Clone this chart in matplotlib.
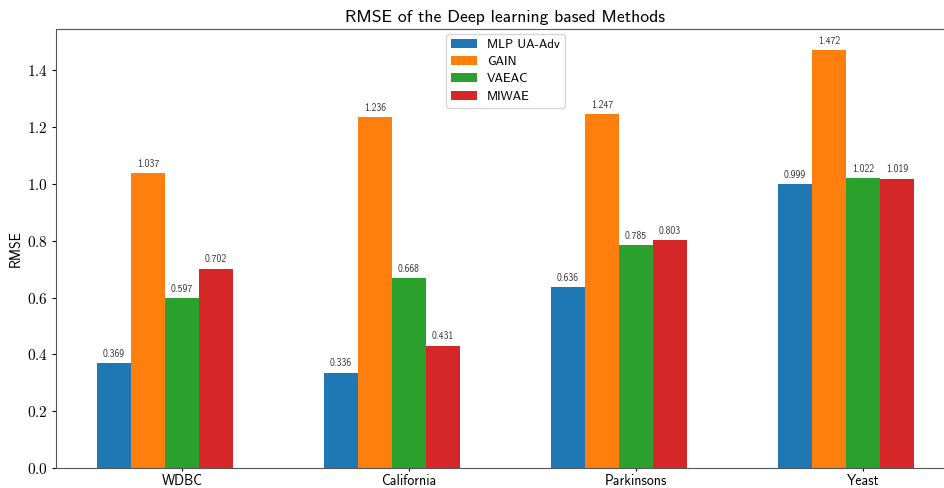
import matplotlib
matplotlib.use("Agg")
import matplotlib.pyplot as plt
import numpy as np
from matplotlib.ticker import FuncFormatter

categories = ["WDBC", "California", "Parkinsons", "Yeast"]
methods = ["MLP UA-Adv", "GAIN", "VAEAC", "MIWAE"]
mlp_ua_adv = [0.369, 0.336, 0.636, 0.999]
gain = [1.037, 1.236, 1.247, 1.472]
vaeac = [0.597, 0.668, 0.785, 1.022]
miwae = [0.702, 0.431, 0.803, 1.019]
series = [mlp_ua_adv, gain, vaeac, miwae]

plt.rcParams['font.family'] = ['cmss10', 'DejaVu Sans']
plt.rcParams['mathtext.fontset'] = 'cm'
plt.rcParams['axes.unicode_minus'] = False

fig = plt.figure(figsize=(9.44, 4.88), dpi=100)
W, H = 944, 488
ax = fig.add_axes([56 / W, 20 / H, (955 - 56) / W, (468 - 29) / H])

x = np.arange(len(categories))
w = 0.15
colors = ["#1f77b4", "#ff7f0e", "#2ca02c", "#d62728"]
for i, (vals, name) in enumerate(zip(series, methods)):
    bars = ax.bar(x + (i - 2) * w, vals, w, label=name, color=colors[i])
    ax.bar_label(bars, fmt='%.3f', fontsize=7, padding=3, color='#333333')

ax.set_xticks(x)
ax.set_xticklabels(categories, fontsize=10)
ax.yaxis.set_major_formatter(FuncFormatter(lambda v, p: r'$%.1f$' % v))
ax.tick_params(axis='y', labelsize=11, length=3, pad=3)
ax.tick_params(axis='x', length=2.5, pad=1.5)
ax.spines['right'].set_visible(False)
for s in ['left', 'bottom', 'top']:
    ax.spines[s].set_color('#555555')
ax.set_ylabel("RMSE", fontsize=10, labelpad=3)
ax.set_title("RMSE of the Deep learning based Methods", fontsize=12.7, pad=5)
ax.legend(loc='upper center', fontsize=9.2, borderaxespad=0.4,
          labelspacing=0.4, handlelength=2.0)

fig.savefig("out.png", dpi=100)
